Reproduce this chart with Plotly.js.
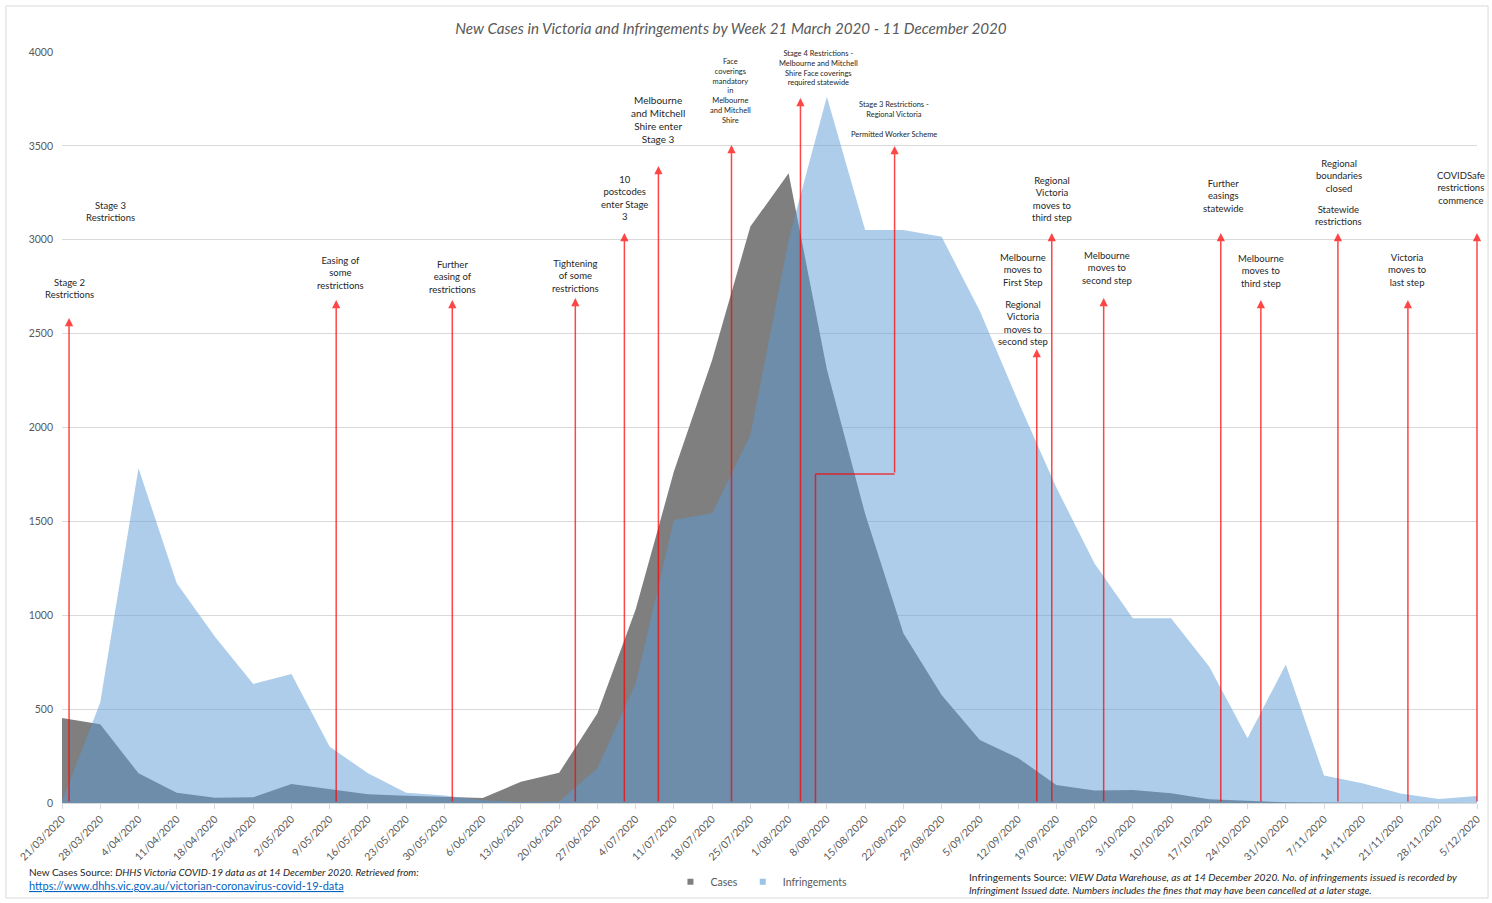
<!DOCTYPE html>
<html>
<head>
<meta charset="utf-8">
<script src="https://cdn.plot.ly/plotly-3.0.1.min.js"></script>
<style>html,body{margin:0;padding:0;background:#fff;}#chart{width:1492px;height:903px;}</style>
</head>
<body>
<div id="chart"></div>
<script>
// ---- Data ----
const weekLabels = ['21/03/2020','28/03/2020','4/04/2020','11/04/2020','18/04/2020','25/04/2020','2/05/2020','9/05/2020','16/05/2020','23/05/2020','30/05/2020','6/06/2020','13/06/2020','20/06/2020','27/06/2020','4/07/2020','11/07/2020','18/07/2020','25/07/2020','1/08/2020','8/08/2020','15/08/2020','22/08/2020','29/08/2020','5/09/2020','12/09/2020','19/09/2020','26/09/2020','3/10/2020','10/10/2020','17/10/2020','24/10/2020','31/10/2020','7/11/2020','14/11/2020','21/11/2020','28/11/2020','5/12/2020'];
const cases = [453,420,158,55,28,30,101,72,46,39,35,27,113,161,478,1030,1765,2360,3070,3354,2310,1540,904,575,335,240,96,66,69,52,20,10,4,2,1,1,0,0];
const infringements = [10,535,1783,1170,886,634,687,300,158,55,40,15,5,8,185,637,1507,1543,1960,3000,3762,3052,3052,3016,2620,2140,1680,1276,984,984,726,345,738,146,105,50,21,37];

// Events: date, arrow tip value (null = no arrow), label text
const eventDates = ['2020-03-22 07:00','2020-03-29 19:00','2020-05-10 04:30','2020-05-31 10:30','2020-06-22 23:00','2020-07-01 22:30','2020-07-08 04:00','2020-07-21 13:00','2020-08-03 04:00','2020-08-20 09:30','2020-09-15 10:00','2020-09-18 04:00','2020-09-27 16:00','2020-10-19 02:30','2020-10-26 10:30','2020-11-09 13:00','2020-11-22 08:30','2020-12-05 00:00'];
const eventTips = [2583,null,2679,2679,2690,3036,3393,3505,3755,3499,2418,3036,2690,3036,2679,3036,2679,3036];
const eventLabels = [
  'Stage 2<br>Restrictions',
  'Stage 3<br>Restrictions',
  'Easing of<br>some<br>restrictions',
  'Further<br>easing of<br>restrictions',
  'Tightening<br>of some<br>restrictions',
  '10<br>postcodes<br>enter Stage<br>3',
  'Melbourne<br>and Mitchell<br>Shire enter<br>Stage 3',
  'Face<br>coverings<br>mandatory<br>in<br>Melbourne<br>and Mitchell<br>Shire',
  'Stage 4 Restrictions -<br>Melbourne and Mitchell<br>Shire Face coverings<br>required statewide',
  'Stage 3 Restrictions -<br>Regional Victoria',
  'Melbourne<br>moves to<br>First Step',
  'Regional<br>Victoria<br>moves to<br>third step',
  'Melbourne<br>moves to<br>second step',
  'Further<br>easings<br>statewide',
  'Melbourne<br>moves to<br>third step',
  'Regional<br>boundaries<br>closed',
  'Victoria<br>moves to<br>last step',
  'COVIDSafe<br>restrictions<br>commence'
];
const extraLabels = [
  {event: 9, text: 'Permitted Worker Scheme'},
  {event: 10, text: 'Regional<br>Victoria<br>moves to<br>second step'},
  {event: 15, text: 'Statewide<br>restrictions'}
];
// Stage 3 Regional Victoria elbow start date and level
const elbowStart = '2020-08-05 22:00';
const elbowLevel = 1752;

// ---- Layout helpers (positions/styles) ----
const labelY = [2743,3148,2823,2802,2807,3222,3638,3792,3915,3696,2839,3217,2850,3233,2834,3340,2839,3276];
const labelDx = [0,0,4,0,0,0,0,-1,18,-1,-14,0,3,3,0,1,-1,-16];
const labelSize = [9.5,9.5,9.5,9.5,9.5,9.5,10,7.5,7.5,7.5,9.5,9.5,9.5,9.5,9.5,9.5,9.5,9.5];
const extraY = [3563,2554,3127];
const extraDx = [-1,-14,1];
const extraSize = [7.5,9.5,9.5];

function toISO(lbl){ const p = lbl.split('/'); return p[2]+'-'+p[1].padStart(2,'0')+'-'+p[0].padStart(2,'0'); }
const xDates = weekLabels.map(toISO);

const FONT = 'Lato, "Open Sans", "Liberation Sans", sans-serif';
const GREY = '#595959';
const RED = 'rgba(255,0,0,0.72)';

const traces = [
  {x: xDates, y: cases, type: 'scatter', mode: 'lines', fill: 'tozeroy', fillcolor: '#7f7f7f', line: {width: 0, color: '#7f7f7f'}, name: 'Cases', showlegend: false, hoverinfo: 'x+y+name'},
  {x: xDates, y: infringements, type: 'scatter', mode: 'lines', fill: 'tozeroy', fillcolor: 'rgba(91,155,213,0.5)', line: {width: 0, color: 'rgba(91,155,213,0.5)'}, name: 'Infringements', showlegend: false, hoverinfo: 'x+y+name'},
  {x: [null], y: [null], type: 'scatter', mode: 'markers', marker: {symbol: 'square', size: 6, color: '#7f7f7f'}, name: 'Cases'},
  {x: [null], y: [null], type: 'scatter', mode: 'markers', marker: {symbol: 'square', size: 6, color: '#9dc3e6'}, name: 'Infringements'}
];

const annotations = [];
eventDates.forEach((d, i) => {
  if (eventTips[i] !== null) {
    const tailY = (i === 9) ? elbowLevel : 0;
    annotations.push({x: d, y: eventTips[i], ax: d, ay: tailY, xref: 'x', yref: 'y', axref: 'x', ayref: 'y',
      text: '', showarrow: true, arrowhead: 2, arrowsize: 1.1, arrowwidth: 1.5, arrowcolor: RED, standoff: 0, startstandoff: 0});
  }
  const white = (i === 7 || i === 8);
  annotations.push({x: d, y: labelY[i], xref: 'x', yref: 'y', xshift: labelDx[i], text: eventLabels[i], showarrow: false,
    xanchor: 'center', yanchor: 'middle', align: 'center', font: {family: FONT, size: labelSize[i], color: '#262626'},
    bgcolor: white ? '#ffffff' : 'rgba(0,0,0,0)', borderpad: white ? 6 : 1});
});
extraLabels.forEach((e, k) => {
  annotations.push({x: eventDates[e.event], y: extraY[k], xref: 'x', yref: 'y', xshift: extraDx[k], text: e.text, showarrow: false,
    xanchor: 'center', yanchor: 'middle', align: 'center', font: {family: FONT, size: extraSize[k], color: '#262626'}});
});
// footnotes
annotations.push({xref: 'paper', yref: 'paper', x: -0.0247, y: -0.0919, xanchor: 'left', yanchor: 'middle', showarrow: false,
  text: 'New Cases Source: <i>DHHS Victoria COVID-19 data as at 14 December 2020. Retrieved from:</i>', font: {family: FONT, size: 10, color: '#262626'}});
annotations.push({xref: 'paper', yref: 'paper', x: -0.0247, y: -0.1105, xanchor: 'left', yanchor: 'middle', showarrow: false,
  text: '<u>https://www.dhhs.vic.gov.au/victorian-coronavirus-covid-19-data</u>', font: {family: FONT, size: 11, color: '#0563C1'}});
annotations.push({xref: 'paper', yref: 'paper', x: 0.6396, y: -0.0985, xanchor: 'left', yanchor: 'middle', showarrow: false,
  text: 'Infringements Source: <i>VIEW Data Warehouse, as at 14 December 2020. No. of infringements issued is recorded by</i>', font: {family: FONT, size: 10.2, color: '#262626'}});
annotations.push({xref: 'paper', yref: 'paper', x: 0.6396, y: -0.1158, xanchor: 'left', yanchor: 'middle', showarrow: false,
  text: '<i>Infringiment Issued date. Numbers includes the fines that may have been cancelled at a later stage.</i>', font: {family: FONT, size: 9.9, color: '#262626'}});

const shapes = [
  {type: 'line', xref: 'x', yref: 'y', x0: elbowStart, x1: elbowStart, y0: 0, y1: elbowLevel, line: {color: RED, width: 1.5}},
  {type: 'line', xref: 'x', yref: 'y', x0: elbowStart, x1: eventDates[9], y0: elbowLevel, y1: elbowLevel, line: {color: RED, width: 1.5}},
  {type: 'rect', xref: 'paper', yref: 'paper', x0: -0.0396, x1: 1.0078, y0: -0.1265, y1: 1.0613, line: {color: '#d9d9d9', width: 1}, layer: 'below'}
];

const layout = {
  width: 1492, height: 903,
  margin: {l: 62, r: 15, t: 52, b: 100, autoexpand: false},
  paper_bgcolor: '#ffffff', plot_bgcolor: '#ffffff',
  font: {family: FONT, color: GREY},
  title: {text: '<i>New Cases in Victoria and Infringements by Week 21 March 2020 - 11 December 2020</i>', xref: 'container', yref: 'container', x: 731/1492, xanchor: 'center', y: 1 - 29/903, yanchor: 'middle', font: {family: FONT, size: 15.2, color: GREY}},
  xaxis: {type: 'date', range: [xDates[0], xDates[xDates.length-1]], tickvals: xDates, ticktext: weekLabels, tickangle: -45,
    tickfont: {family: FONT, size: 10.5, color: GREY}, showgrid: false, showline: true, linecolor: '#d9d9d9', linewidth: 1,
    ticks: 'outside', ticklen: 5, tickcolor: '#d9d9d9', zeroline: false, fixedrange: true},
  yaxis: {range: [0, 4000], dtick: 500, tick0: 0, showgrid: true, gridcolor: '#d9d9d9', gridwidth: 1, zeroline: false, showline: false,
    tickfont: {family: FONT, size: 10.5, color: GREY}, ticks: '', ticklabelstandoff: 8, tickformat: 'd', fixedrange: true},
  legend: {orientation: 'h', x: 0.43, y: -0.105, xanchor: 'left', yanchor: 'middle', font: {family: FONT, size: 10.5, color: GREY}, itemwidth: 30, tracegroupgap: 0, bgcolor: 'rgba(0,0,0,0)'},
  annotations: annotations,
  shapes: shapes,
  showlegend: true
};

Plotly.newPlot('chart', traces, layout, {displayModeBar: false, staticPlot: true});
</script>
</body>
</html>
